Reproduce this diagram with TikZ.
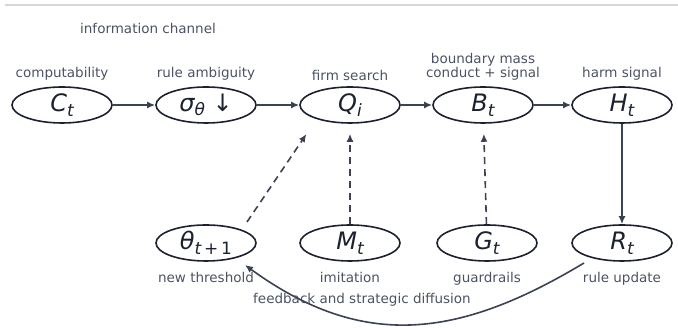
\documentclass[tikz,border=0pt]{standalone}
\usepackage{fontspec}
\setmainfont{DejaVu Sans}
\usepackage{tikz}
\usetikzlibrary{arrows.meta,shapes.geometric}

\definecolor{inkline}{HTML}{1C2130}
\definecolor{arrowcol}{HTML}{3A4254}
\definecolor{lblcol}{HTML}{4B5362}
\definecolor{rulecol}{HTML}{D4D7DC}

% variable with a subscript, set in the oblique sans
\newcommand{\vsym}[2]{{\itshape #1}\raisebox{-0.35ex}{\fontsize{17}{17}\selectfont #2}}

\begin{document}
\begin{tikzpicture}[x=1pt, y=1pt, thick,
    varnode/.style={ellipse, draw=inkline, line width=1.6pt, minimum width=100pt,
                    minimum height=36pt, inner sep=0pt, font=\fontsize{24}{24}\selectfont,
                    text=inkline},
    lbl/.style={font=\fontsize{13.5}{12}\selectfont, text=lblcol, align=center},
    flow/.style={-{Latex[length=8pt,width=7pt]}, draw=arrowcol, line width=1.6pt},
    diffuse/.style={flow, dash pattern=on 7pt off 5pt, shorten >=10pt}]

  \useasboundingbox (0,0) rectangle (678,328);
  \draw[rulecol, line width=1.2pt] (5,323) -- (678,323);

  \node[lbl] (chan) at (148,300) {information channel};

  \node[varnode] (Ct)    at (62,223)                                {\vsym{C}{\itshape t}};
  \node[varnode] (sigma) [right of=Ct, node distance=144pt]         {\vsym{σ}{\itshape θ}\ ↓};
  \node[varnode] (Qi)    [right of=sigma, node distance=144pt]      {\vsym{Q}{\itshape i}};
  \node[varnode] (Bt)    [right of=Qi, node distance=133pt]         {\vsym{B}{\itshape t}};
  \node[varnode] (Ht)    [right of=Bt, node distance=139pt]         {\vsym{H}{\itshape t}};

  \node[varnode] (theta) [below of=sigma, node distance=138pt]      {\vsym{θ}{{\itshape t}\,+\,1}};
  \node[varnode] (Mt)    [right of=theta, node distance=144pt]      {\vsym{M}{\itshape t}};
  \node[varnode] (Gt)    [right of=Mt, node distance=137pt]         {\vsym{G}{\itshape t}};
  \node[varnode] (Rt)    [below of=Ht, node distance=138pt]         {\vsym{R}{\itshape t}};

  \node[lbl, anchor=south] (Ctlbl)    at ([yshift=2pt]Ct.north)    {computability};
  \node[lbl, anchor=south] (sigmalbl) at ([yshift=2pt]sigma.north) {rule ambiguity};
  \node[lbl, anchor=south] (Qilbl)    at ([yshift=2pt]Qi.north)    {firm search};
  \node[lbl, anchor=south] (Btlbl)    at ([yshift=2pt]Bt.north)
        {boundary mass\\conduct + signal};
  \node[lbl, anchor=south] (Htlbl)    at ([yshift=2pt]Ht.north)    {harm signal};

  \node[lbl, anchor=north] (thetalbl) at ([yshift=-7pt]theta.south) {new threshold};
  \node[lbl, anchor=north] (Mtlbl)    at ([yshift=-7pt]Mt.south)    {imitation};
  \node[lbl, anchor=north] (Gtlbl)    at ([yshift=-7pt]Gt.south)    {guardrails};
  \node[lbl, anchor=north] (Rtlbl)    at ([yshift=-7pt]Rt.south)    {rule update};

  \node[lbl] (fback) at (362,28) {feedback and strategic diffusion};

  \path[flow] (Ct)    edge (sigma)
              (sigma) edge (Qi)
              (Qi)    edge (Bt)
              (Bt)    edge (Ht)
              (Ht)    edge (Rt);
  \draw[diffuse] ([shift={(41pt,21pt)}]theta.center) -- ([xshift=-38pt,yshift=-2pt]Qi.south);
  \path[diffuse] (Mt) edge (Qi)
                 (Gt) edge (Bt);
  \draw[flow] ([shift={(-38pt,-20pt)}]Rt.center) to[out=211, in=-36, looseness=1.1]
              ([shift={(39pt,-22pt)}]theta.center);

\end{tikzpicture}
\end{document}
